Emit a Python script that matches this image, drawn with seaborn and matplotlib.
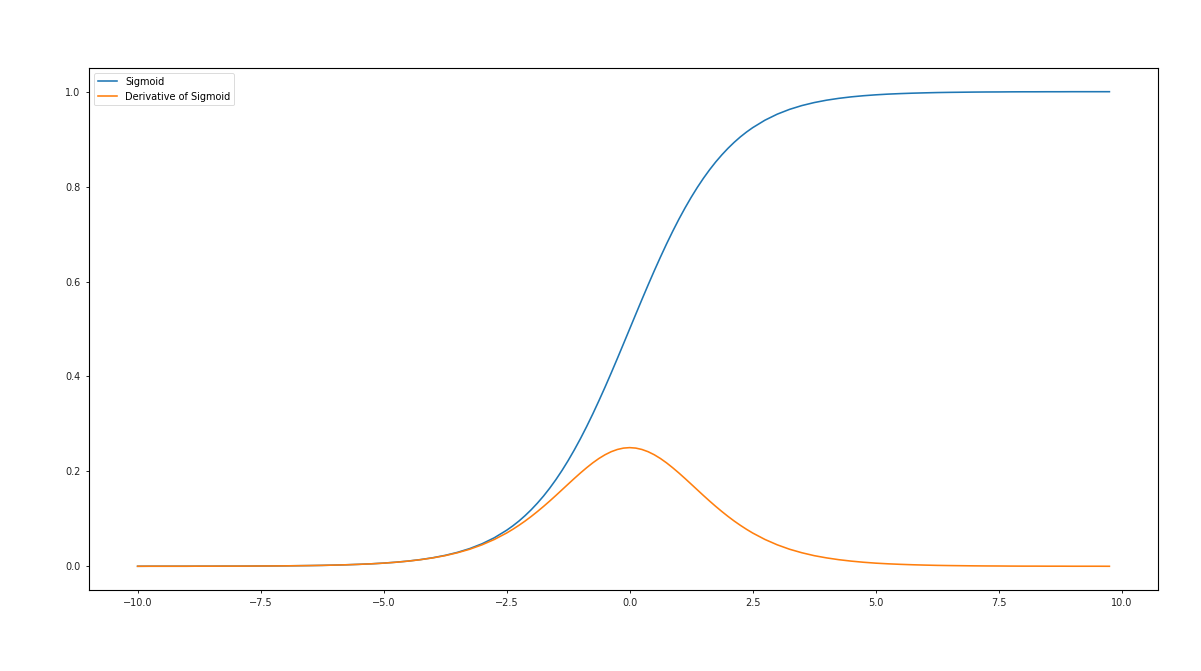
import pandas as pd
import matplotlib
matplotlib.use("Agg")
import matplotlib.pyplot as plt
import seaborn as sns

# x samples (-10 .. 9.75), denser around the centre
x_vals = [
    -10.0, -9.75, -9.5, -9.25, -9.0, -8.75, -8.5, -8.25, -8.0, -7.75,
    -7.5, -7.25, -7.0, -6.75, -6.5, -6.25, -6.0, -5.75, -5.5, -5.25,
    -5.0, -4.75, -4.5, -4.25, -4.0, -3.75, -3.5, -3.25, -3.0, -2.75,
    -2.5, -2.375, -2.25, -2.125, -2.0, -1.875, -1.75, -1.625, -1.5, -1.375,
    -1.25, -1.125, -1.0, -0.875, -0.75, -0.625, -0.5, -0.375, -0.25, -0.125,
    0.0, 0.125, 0.25, 0.375, 0.5, 0.625, 0.75, 0.875, 1.0, 1.125,
    1.25, 1.375, 1.5, 1.625, 1.75, 1.875, 2.0, 2.125, 2.25, 2.375,
    2.5, 2.75, 3.0, 3.25, 3.5, 3.75, 4.0, 4.25, 4.5, 4.75,
    5.0, 5.25, 5.5, 5.75, 6.0, 6.25, 6.5, 6.75, 7.0, 7.25,
    7.5, 7.75, 8.0, 8.25, 8.5, 8.75, 9.0, 9.25, 9.5, 9.75,
]

sigmoid_vals = [
    0.0000, 0.0001, 0.0001, 0.0001, 0.0001, 0.0002, 0.0002, 0.0003, 0.0003, 0.0004,
    0.0006, 0.0007, 0.0009, 0.0012, 0.0015, 0.0019, 0.0025, 0.0032, 0.0041, 0.0052,
    0.0067, 0.0086, 0.0110, 0.0141, 0.0180, 0.0230, 0.0293, 0.0373, 0.0474, 0.0601,
    0.0759, 0.0851, 0.0953, 0.1067, 0.1192, 0.1330, 0.1480, 0.1645, 0.1824, 0.2018,
    0.2227, 0.2451, 0.2689, 0.2942, 0.3208, 0.3487, 0.3775, 0.4073, 0.4378, 0.4688,
    0.5000, 0.5312, 0.5622, 0.5927, 0.6225, 0.6513, 0.6792, 0.7058, 0.7311, 0.7549,
    0.7773, 0.7982, 0.8176, 0.8355, 0.8520, 0.8670, 0.8808, 0.8933, 0.9047, 0.9149,
    0.9241, 0.9399, 0.9526, 0.9627, 0.9707, 0.9770, 0.9820, 0.9859, 0.9890, 0.9914,
    0.9933, 0.9948, 0.9959, 0.9968, 0.9975, 0.9981, 0.9985, 0.9988, 0.9991, 0.9993,
    0.9994, 0.9996, 0.9997, 0.9997, 0.9998, 0.9998, 0.9999, 0.9999, 0.9999, 0.9999,
]

deriv_vals = [
    0.0000, 0.0001, 0.0001, 0.0001, 0.0001, 0.0002, 0.0002, 0.0003, 0.0003, 0.0004,
    0.0006, 0.0007, 0.0009, 0.0012, 0.0015, 0.0019, 0.0025, 0.0032, 0.0041, 0.0052,
    0.0066, 0.0085, 0.0109, 0.0139, 0.0177, 0.0224, 0.0285, 0.0359, 0.0452, 0.0565,
    0.0701, 0.0779, 0.0863, 0.0953, 0.1050, 0.1153, 0.1261, 0.1374, 0.1491, 0.1611,
    0.1731, 0.1850, 0.1966, 0.2076, 0.2179, 0.2271, 0.2350, 0.2414, 0.2461, 0.2490,
    0.2500, 0.2490, 0.2461, 0.2414, 0.2350, 0.2271, 0.2179, 0.2076, 0.1966, 0.1850,
    0.1731, 0.1611, 0.1491, 0.1374, 0.1261, 0.1153, 0.1050, 0.0953, 0.0863, 0.0779,
    0.0701, 0.0565, 0.0452, 0.0359, 0.0285, 0.0224, 0.0177, 0.0139, 0.0109, 0.0085,
    0.0066, 0.0052, 0.0041, 0.0032, 0.0025, 0.0019, 0.0015, 0.0012, 0.0009, 0.0007,
    0.0006, 0.0004, 0.0003, 0.0003, 0.0002, 0.0002, 0.0001, 0.0001, 0.0001, 0.0000,
]

series_names = ["Sigmoid", "Derivative of Sigmoid"]
series_colors = ["#1f77b4", "#ff7f0e"]


def main():
    df = pd.DataFrame({"x": x_vals, series_names[0]: sigmoid_vals, series_names[1]: deriv_vals})
    data_melted = pd.melt(df, id_vars="x", var_name="series", value_name="y")

    plt.rcParams["font.family"] = ["DejaVu Sans"]
    fig, ax = plt.subplots(figsize=(12.01, 6.71), dpi=100)
    fig.subplots_adjust(left=0.0741, right=0.9642, top=0.8987, bottom=0.1207)

    sns.lineplot(data=data_melted, x="x", y="y", hue="series", hue_order=series_names,
                 palette=series_colors, linewidth=1.15, ax=ax, sort=False)

    ax.set_xlabel("")
    ax.set_ylabel("")
    ax.set_xticks([-10.0, -7.5, -5.0, -2.5, 0.0, 2.5, 5.0, 7.5, 10.0])
    ax.set_yticks([0.0, 0.2, 0.4, 0.6, 0.8, 1.0])
    ax.tick_params(labelsize=7.0, length=2.5, width=0.7, colors="#222222")
    for spine in ax.spines.values():
        spine.set_linewidth(0.8)

    leg = ax.legend(loc="upper left", fontsize=7.0, frameon=True, handlelength=2.0)
    leg.get_frame().set_linewidth(0.6)

    plt.savefig("out.png", dpi=100)
    plt.close()


if __name__ == "__main__":
    main()
